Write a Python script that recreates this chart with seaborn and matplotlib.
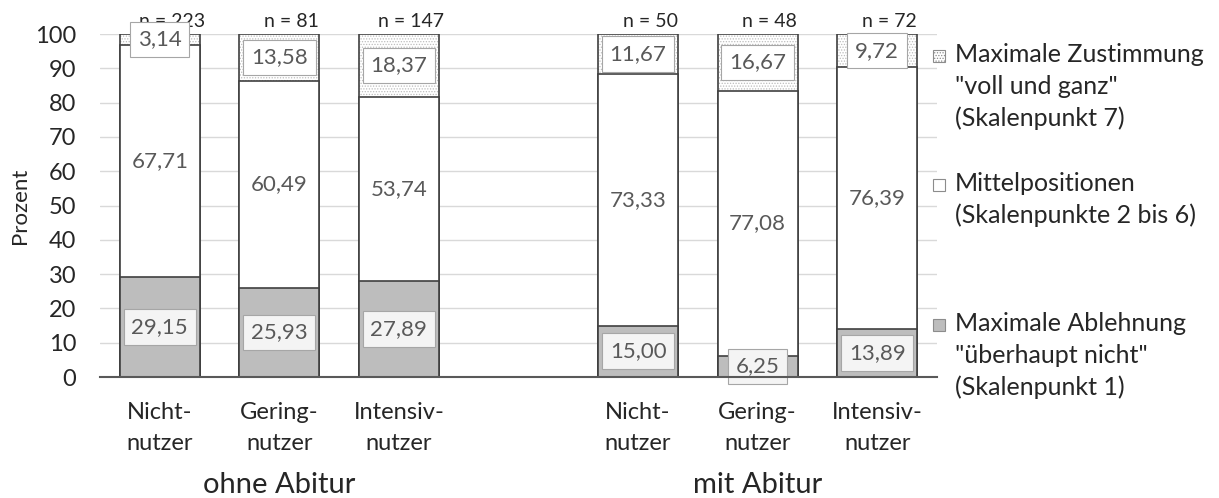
#!/usr/bin/env python3
# -*- coding: utf-8 -*-
"""
plot.py

Purpose:
    Stacked bars: agreement by user type, ohne/mit Abitur
"""
###########################################################
### Imports
import numpy as np
import pandas as pd
import seaborn as sns
import matplotlib.pyplot as plt
from matplotlib.patches import Rectangle

###########################################################
### Data
groups = ['ohne Abitur', 'mit Abitur']
users = ['Nicht-\nnutzer', 'Gering-\nnutzer', 'Intensiv-\nnutzer']
ablehnung = [29.15, 25.93, 27.89, 15.00, 6.25, 13.89]
mittel = [67.71, 60.49, 53.74, 73.33, 77.08, 76.39]
zustimmung = [3.14, 13.58, 18.37, 11.67, 16.67, 9.72]
n_values = [223, 81, 147, 50, 48, 72]
legend_labels = ['Maximale Zustimmung\n"voll und ganz"\n(Skalenpunkt 7)',
                 'Mittelpositionen\n(Skalenpunkte 2 bis 6)',
                 'Maximale Ablehnung\n"überhaupt nicht"\n(Skalenpunkt 1)']


###########################################################
### main
def main():
    sns.set_style('white')
    plt.rcParams['font.family'] = ['Lato', 'DejaVu Sans']
    plt.rcParams['hatch.linewidth'] = 0.6

    # one empty slot between the two groups
    pos = [g * 4 + u for g in range(len(groups)) for u in range(len(users))]
    df = pd.DataFrame({'pos': pos, 'abl': ablehnung, 'mit': mittel, 'zus': zustimmung})
    df['low_mid'] = df.abl + df.mit
    df['total'] = df.low_mid + df.zus

    edge = '#404040'
    txt = '#262626'
    fig = plt.figure(figsize=(12.19, 4.98), dpi=100)
    ax = fig.add_axes([100 / 1219, 1 - 377 / 498, 837 / 1219, 343 / 498])

    common = dict(x='pos', native_scale=True, width=0.667, errorbar=None, ax=ax)
    # top segment (hatched), drawn as full stack first
    sns.barplot(data=df, y='total', color='white', hatch='......',
                edgecolor='#bdbdbd', linewidth=0, saturation=1, **common)
    sns.barplot(data=df, y='total', fill=False, edgecolor=edge, linewidth=1.2, **common)
    sns.barplot(data=df, y='low_mid', color='white', edgecolor=edge, linewidth=1.2,
                saturation=1, **common)
    sns.barplot(data=df, y='abl', color='#bdbdbd', edgecolor=edge, linewidth=1.2,
                saturation=1, **common)

    # data labels
    box = dict(boxstyle='square,pad=0.35', fc='#f4f4f4', ec='#a6a6a6', lw=0.8)
    lab = lambda v: f'{v:.2f}'.replace('.', ',')
    for x, a, m, z, n in zip(pos, ablehnung, mittel, zustimmung, n_values):
        ax.text(x, a / 2, lab(a), ha='center', va='center', fontsize=16,
                color='#595959', bbox=box, zorder=5)
        ax.text(x, a + m / 2, lab(m), ha='center', va='center', fontsize=16,
                color='#595959', zorder=5)
        ax.text(x, a + m + z / 2, lab(z), ha='center', va='center', fontsize=16,
                color='#595959', bbox=dict(box, fc='white'), zorder=5, clip_on=False)
        ax.text(x + 0.1, 103.6, f'n = {n}', ha='center', va='center', fontsize=14,
                color=txt, clip_on=False)

    # axes styling
    ax.set_xlim(-0.5, 6.5)
    ax.set_ylim(0, 100)
    ax.set_yticks(range(0, 101, 10))
    ax.set_xticks(pos)
    ax.set_xticklabels(users * len(groups), fontsize=17, color=txt, linespacing=1.6)
    ax.tick_params(axis='y', labelsize=17, labelcolor=txt, length=0, pad=17)
    ax.tick_params(axis='x', length=0, pad=18)
    ax.set_xlabel('')
    ax.set_ylabel('Prozent', fontsize=16, color=txt, labelpad=4)
    ax.yaxis.grid(True, color='#d9d9d9', linewidth=1)
    ax.set_axisbelow(True)
    for s in ['top', 'right', 'left']:
        ax.spines[s].set_visible(False)
    ax.spines['bottom'].set_color('#595959')
    ax.spines['bottom'].set_linewidth(1.5)
    ax.spines['bottom'].set_zorder(6)

    # group labels
    for g, name in enumerate(groups):
        ax.text(g * 4 + 1, -31.5, name, ha='center', va='center', fontsize=21,
                color=txt, clip_on=False)

    # legend, placed by hand like the original
    fills = [dict(fc='white', hatch='......', ec='#8c8c8c'),
             dict(fc='white', ec='#8c8c8c'),
             dict(fc='#bdbdbd', ec='#8c8c8c')]
    tops = [56, 185, 325]
    for label, f, ty in zip(legend_labels, fills, tops):
        fig.patches.append(Rectangle((933 / 1219, 1 - (ty + 6) / 498), 12 / 1219, 12 / 498,
                                     transform=fig.transFigure, lw=0.8, **f))
        fig.text(955 / 1219, 1 - (ty - 13) / 498, label, ha='left', va='top', fontsize=18,
                 color=txt, linespacing=1.45)

    plt.savefig('out.png', dpi=100)


###########################################################
### start main
if __name__ == "__main__":
    main()
